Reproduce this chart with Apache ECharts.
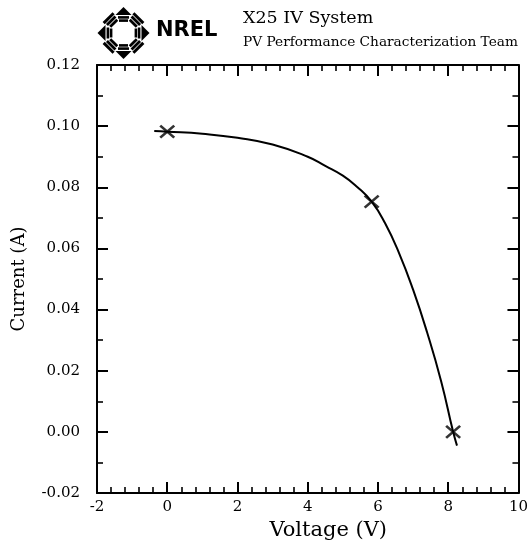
<!DOCTYPE html>
<html>
<head>
<meta charset="utf-8">
<title>X25 IV System</title>
<script src="https://cdn.jsdelivr.net/npm/echarts@6/dist/echarts.min.js"></script>
<style>
  html, body { margin: 0; padding: 0; background: #fff; }
  #chart { width: 531px; height: 546px; }
</style>
</head>
<body>
<div id="chart"></div>
<script>
// Measured I-V points (voltage in V, current in A)
const pointVoltage = [0.00, 5.82, 8.14];
const pointCurrent = [0.0982, 0.0753, 0.0000];

// Fitted I-V curve through the measured points
const curveVoltage = [-0.37, 0.00, 1.00, 2.00, 3.00, 4.00, 4.50, 5.00, 5.40, 5.82, 6.20, 6.60, 7.00, 7.40, 7.80, 8.14, 8.25];
const curveCurrent = [0.0984, 0.0982, 0.0975, 0.0962, 0.0940, 0.0900, 0.0870, 0.0838, 0.0802, 0.0753, 0.0683, 0.0585, 0.0465, 0.0325, 0.0165, 0.0000, -0.0045];

// Axis ranges and tick steps
const voltageAxis = { min: -2, max: 10, step: 2, minorSplit: 5 };
const currentAxis = { min: -0.02, max: 0.12, step: 0.02, minorSplit: 2 };

const titleText = 'X25 IV System';
const subtitleText = 'PV Performance Characterization Team';
const orgText = 'NREL';

const serif = 'DejaVu Serif';
const black = '#000';

// Compass-style emblem: eight rays of stripes, arrowheads on the four main ones
function emblem(cx, cy) {
  const parts = [];
  const poly = (pts) => parts.push({
    type: 'polygon', shape: { points: pts }, style: { fill: black }, silent: true
  });
  const bar = (r, halfLen, halfThick, a) => {
    const ux = Math.cos(a), uy = Math.sin(a), vx = -uy, vy = ux;
    const px = cx + r * ux, py = cy + r * uy;
    poly([
      [px - vx * halfLen - ux * halfThick, py - vy * halfLen - uy * halfThick],
      [px + vx * halfLen - ux * halfThick, py + vy * halfLen - uy * halfThick],
      [px + vx * halfLen + ux * halfThick, py + vy * halfLen + uy * halfThick],
      [px - vx * halfLen + ux * halfThick, py - vy * halfLen + uy * halfThick]
    ]);
  };
  for (let k = 0; k < 8; k++) {
    const a = k * Math.PI / 4;
    const ux = Math.cos(a), uy = Math.sin(a), vx = -uy, vy = ux;
    if (k % 2 === 0) {
      const rt = 26, rb = 18, hw = 8;
      poly([
        [cx + rt * ux, cy + rt * uy],
        [cx + rb * ux + vx * hw, cy + rb * uy + vy * hw],
        [cx + rb * ux - vx * hw, cy + rb * uy - vy * hw]
      ]);
      bar(15.6, 5.5, 1.3, a);
      bar(12.4, 4.5, 1.3, a);
    } else {
      bar(21, 7, 1.5, a);
      bar(17.4, 6, 1.4, a);
      bar(13.8, 5, 1.4, a);
    }
  }
  return parts;
}

const chart = echarts.init(document.getElementById('chart'), null, { renderer: 'canvas' });

const tickStyle = { color: black, width: 2 };
const minorStyle = { color: black, width: 1.6 };

function xAxisDef(pos, withLabels) {
  return {
    type: 'value',
    position: pos,
    min: voltageAxis.min, max: voltageAxis.max, interval: voltageAxis.step,
    axisLine: { show: true, onZero: false, lineStyle: { color: black, width: 2 } },
    axisTick: { show: true, inside: true, length: 11, lineStyle: tickStyle },
    minorTick: { show: true, splitNumber: voltageAxis.minorSplit, length: 6, lineStyle: minorStyle },
    splitLine: { show: false },
    minorSplitLine: { show: false },
    axisLabel: withLabels ? {
      show: true, margin: 7, color: black, fontFamily: serif, fontSize: 15
    } : { show: false },
    name: withLabels ? 'Voltage (V)' : '',
    nameLocation: 'middle',
    nameGap: 25,
    nameTextStyle: { color: black, fontFamily: serif, fontSize: 21, padding: [0, 0, 0, 41] }
  };
}

function yAxisDef(pos, withLabels) {
  return {
    type: 'value',
    position: pos,
    min: currentAxis.min, max: currentAxis.max, interval: currentAxis.step,
    axisLine: { show: true, onZero: false, lineStyle: { color: black, width: 2 } },
    axisTick: { show: true, inside: true, length: 11, lineStyle: tickStyle },
    minorTick: { show: true, splitNumber: currentAxis.minorSplit, length: 6, lineStyle: minorStyle },
    splitLine: { show: false },
    minorSplitLine: { show: false },
    axisLabel: withLabels ? {
      show: true, margin: 17, color: black, fontFamily: serif, fontSize: 15,
      formatter: (v) => v.toFixed(2)
    } : { show: false },
    name: withLabels ? 'Current (A)' : '',
    nameLocation: 'middle',
    nameGap: 69,
    nameTextStyle: { color: black, fontFamily: serif, fontSize: 18 }
  };
}

const curveData = curveVoltage.map((v, i) => [v, curveCurrent[i]]);
const pointData = pointVoltage.map((v, i) => [v, pointCurrent[i]]);

chart.setOption({
  backgroundColor: '#fff',
  animation: false,
  grid: { left: 97, right: 9, top: 65, bottom: 53 },
  xAxis: [xAxisDef('bottom', true), xAxisDef('top', false)],
  yAxis: [yAxisDef('left', true), yAxisDef('right', false)],
  series: [
    {
      name: 'I-V curve',
      type: 'line',
      xAxisIndex: 0, yAxisIndex: 0,
      data: curveData,
      smooth: 0.5,
      showSymbol: false,
      lineStyle: { color: black, width: 2 },
      z: 2
    },
    {
      name: 'Measured',
      type: 'scatter',
      xAxisIndex: 0, yAxisIndex: 0,
      data: pointData,
      symbol: 'path://M0,0L14,12M14,0L0,12',
      symbolSize: [14, 12],
      itemStyle: { color: 'none', borderColor: black, borderWidth: 2.4 },
      z: 3
    }
  ],
  graphic: [
    ...emblem(123.5, 33),
    {
      type: 'text', x: 156, y: 31, silent: true,
      style: {
        text: orgText, fill: black, font: 'bold 21px "DejaVu Sans"',
        verticalAlign: 'middle', align: 'left'
      }
    },
    {
      type: 'text', x: 243, y: 18, silent: true,
      style: {
        text: titleText, fill: black, font: '17.5px "DejaVu Serif"',
        verticalAlign: 'middle', align: 'left'
      }
    },
    {
      type: 'text', x: 243, y: 42, silent: true,
      style: {
        text: subtitleText, fill: black, font: '13.7px "DejaVu Serif"',
        verticalAlign: 'middle', align: 'left'
      }
    }
  ]
});
</script>
</body>
</html>
